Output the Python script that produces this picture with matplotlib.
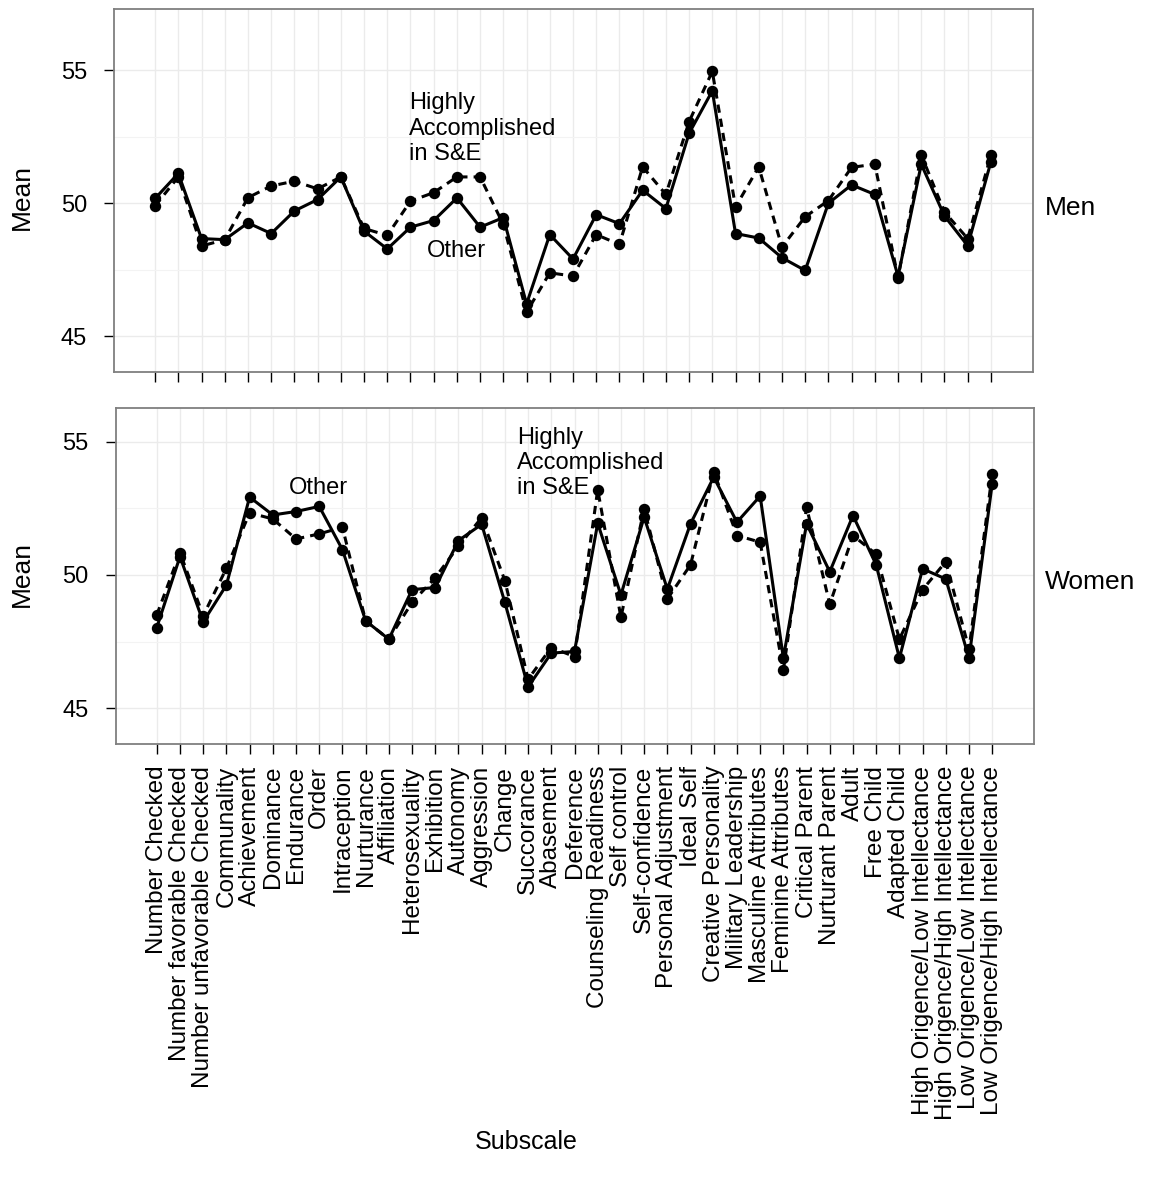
import matplotlib
matplotlib.use("Agg")
import matplotlib.pyplot as plt
from matplotlib.ticker import MultipleLocator
import numpy as np

plt.rcParams['font.family'] = ['Liberation Sans', 'DejaVu Sans']

subscales = ["Number Checked", "Number favorable Checked", "Number unfavorable Checked",
             "Communality", "Achievement", "Dominance", "Endurance", "Order",
             "Intraception", "Nurturance", "Affiliation", "Heterosexuality",
             "Exhibition", "Autonomy", "Aggression", "Change", "Succorance",
             "Abasement", "Deference", "Counseling Readiness", "Self control",
             "Self-confidence", "Personal Adjustment", "Ideal Self",
             "Creative Personality", "Military Leadership", "Masculine Attributes",
             "Feminine Attributes", "Critical Parent", "Nurturant Parent", "Adult",
             "Free Child", "Adapted Child", "High Origence/Low Intellectance",
             "High Origence/High Intellectance", "Low Origence/Low Intellectance",
             "Low Origence/High Intellectance"]

# men
men_other = [50.18, 51.12, 48.67, 48.63, 49.26, 48.86, 49.71, 50.14, 50.99, 48.95,
             48.28, 49.10, 49.35, 50.20, 49.10, 49.46, 46.21, 48.82, 47.90, 49.57,
             49.23, 50.49, 49.80, 52.63, 54.23, 48.86, 48.69, 47.95, 47.47, 50.00,
             50.69, 50.33, 47.25, 51.47, 49.52, 48.40, 51.56]
men_high = [49.90, 50.99, 48.39, 48.63, 50.21, 50.65, 50.83, 50.54, 50.99, 49.05,
            48.79, 50.08, 50.40, 50.99, 50.99, 49.20, 45.90, 47.38, 47.26, 48.82,
            48.45, 51.37, 50.33, 53.07, 54.96, 49.86, 51.37, 48.35, 49.49, 50.10,
            51.35, 51.47, 47.20, 51.82, 49.67, 48.67, 51.81]

# women
women_other = [48.03, 50.69, 48.24, 49.62, 52.92, 52.25, 52.38, 52.57, 50.95, 48.28,
               47.59, 49.45, 49.53, 51.29, 51.90, 48.97, 45.80, 47.07, 47.13, 51.94,
               49.25, 52.17, 49.47, 51.92, 53.67, 51.98, 52.96, 46.88, 51.92, 50.12,
               52.23, 50.38, 46.88, 50.23, 49.85, 46.88, 53.43]
women_high = [48.50, 50.84, 48.47, 50.25, 52.33, 52.10, 51.35, 51.54, 51.79, 48.28,
              47.59, 48.97, 49.90, 51.08, 52.15, 49.79, 46.09, 47.28, 46.94, 53.20,
              48.41, 52.48, 49.10, 50.38, 53.88, 51.48, 51.23, 46.43, 52.54, 48.90,
              51.48, 50.78, 47.59, 49.45, 50.50, 47.22, 53.78]

W, H = 1151, 1188
fig = plt.figure(figsize=(W / 100, H / 100), dpi=100)

def px_axes(l, t, r, b):
    return fig.add_axes([l / W, 1 - b / H, (r - l) / W, (b - t) / H])

ax_men = px_axes(114, 9, 1032.7, 371.7)
ax_wom = px_axes(115.7, 408.3, 1034, 744.3)

x = np.arange(len(subscales))

def draw(ax, other, high, ylim):
    ax.plot(x, other, color='black', lw=2.2, marker='o', ms=7.2, zorder=3)
    ax.plot(x, high, color='black', lw=2.2, ls=(0, (2.7, 2.0)), marker='o', ms=7.2, zorder=3)
    ax.set_xlim(-1.77, 37.8)
    ax.set_ylim(*ylim)
    ax.set_xticks(x)
    ax.yaxis.set_major_locator(MultipleLocator(5))
    ax.yaxis.set_minor_locator(MultipleLocator(2.5))
    ax.grid(True, which='major', color='#ebebeb', lw=1.0, zorder=0)
    ax.grid(True, which='minor', axis='y', color='#f3f3f3', lw=0.8, zorder=0)
    ax.set_axisbelow(True)
    for s in ax.spines.values():
        s.set_color('#7f7f7f')
        s.set_linewidth(1.3)
    ax.tick_params(which='major', length=7.5, width=1.0, color='black', labelsize=17, pad=12)
    ax.tick_params(which='minor', length=0)
    ax.tick_params(axis='x', pad=8)

draw(ax_men, men_other, men_high, (43.66, 57.31))
draw(ax_wom, women_other, women_high, (43.65, 56.25))

ax_men.set_xticklabels([])
ax_wom.set_xticklabels(subscales, rotation=90, fontsize=17.5, va='top', ha='center')

# line labels
ax_men.text(10.95, 54.17, "Highly\nAccomplished\nin S&E", fontsize=17, ha='left', va='top')
ax_men.text(11.70, 48.61, "Other", fontsize=17, ha='left', va='top')
ax_wom.text(5.71, 53.66, "Other", fontsize=17, ha='left', va='top')
ax_wom.text(15.53, 55.56, "Highly\nAccomplished\nin S&E", fontsize=17, ha='left', va='top')

# strip labels and axis titles
fig.text(1045 / W, 1 - 215 / H, "Men", fontsize=19, ha='left', va='baseline')
fig.text(1045 / W, 1 - 589 / H, "Women", fontsize=19, ha='left', va='baseline')
fig.text(22 / W, 1 - 197 / H, "Mean", fontsize=19, rotation=90, ha='center', va='center')
fig.text(22 / W, 1 - 574 / H, "Mean", fontsize=19, rotation=90, ha='center', va='center')
fig.text(526 / W, 1 - 1142 / H, "Subscale", fontsize=18, ha='center', va='center')

fig.savefig("out.png", dpi=100)
